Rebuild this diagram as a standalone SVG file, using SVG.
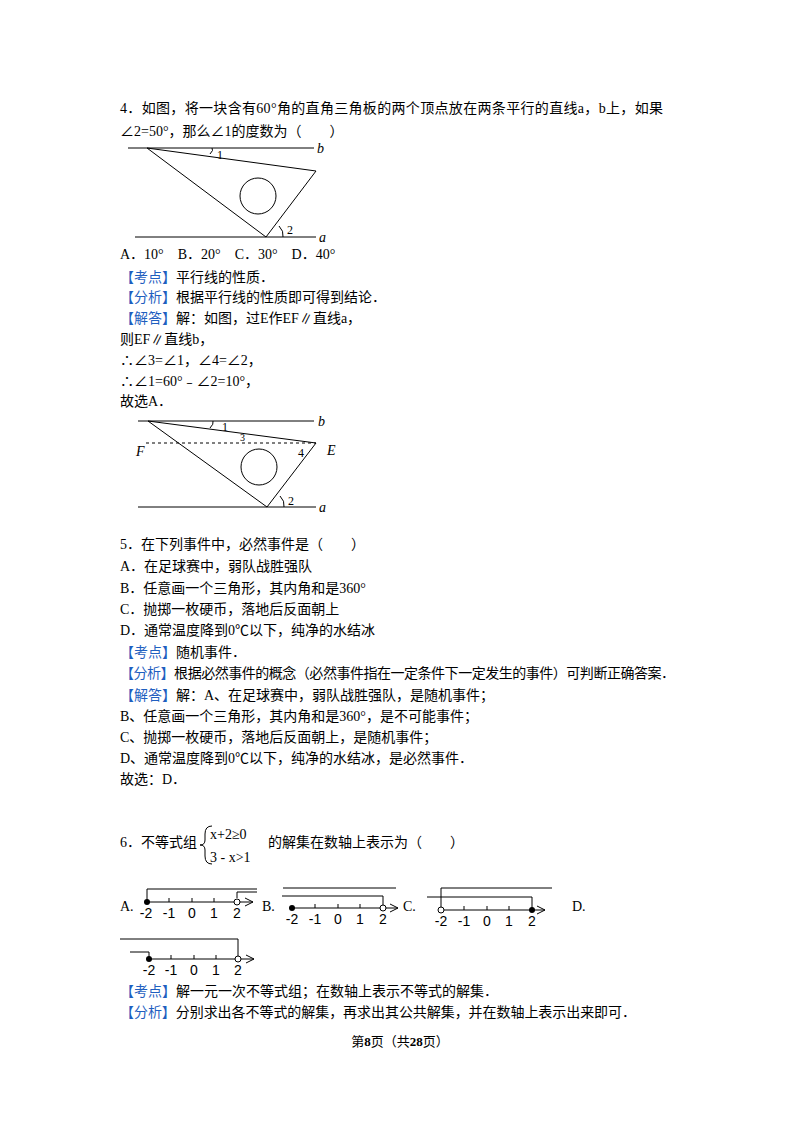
<svg xmlns="http://www.w3.org/2000/svg" width="800" height="1132" viewBox="0 0 800 1132">
<style>
text{font-family:"Liberation Serif","Noto Sans CJK SC",serif;font-size:14px;fill:#000}
.k{fill:#1f5fbf}
.it{font-style:italic}
.sm{font-size:12px}
.xs{font-size:10px}
.ln{stroke:#000;stroke-width:1;fill:none}
.nl{font-family:"Liberation Sans","Noto Sans CJK SC",sans-serif;font-size:14px;text-anchor:middle}
.ft{font-size:13px;text-anchor:middle}
</style>
<defs><marker id="ar" markerWidth="10" markerHeight="10" refX="9" refY="5" orient="auto" markerUnits="userSpaceOnUse"><path d="M1,1 L9,5 L1,9" fill="none" stroke="#000"/></marker></defs>
<rect width="800" height="1132" fill="#fff"/>
<text x="120" y="113" textLength="543">4．如图，将一块含有60°角的直角三角板的两个顶点放在两条平行的直线a，b上，如果</text>
<text x="120" y="136">∠2=50°，那么∠1的度数为（　　）</text>
<g id="fig1">
<line class="ln" x1="128" y1="148" x2="314" y2="148"/>
<line class="ln" x1="135" y1="237" x2="316" y2="237"/>
<path class="ln" d="M147,148 L316,171 L266,237 Z"/>
<circle class="ln" cx="258" cy="196" r="18"/>
<path class="ln" d="M210,154 Q214,150 212,148"/>
<path class="ln" d="M279,226 Q284,231 283,237"/>
<text x="217" y="159" class="sm">1</text><text x="287" y="234" class="sm">2</text>
<text x="317" y="153" class="it">b</text><text x="319" y="242" class="it">a</text>
</g>
<text x="120" y="259">A．10°　B．20°　C．30°　D．40°</text>
<text x="120" y="282"><tspan class="k">【考点】</tspan>平行线的性质．</text>
<text x="120" y="302"><tspan class="k">【分析】</tspan>根据平行线的性质即可得到结论．</text>
<text x="120" y="323"><tspan class="k">【解答】</tspan>解：如图，过E作EF∥直线a，</text>
<text x="120" y="344">则EF∥直线b，</text>
<text x="120" y="365">∴∠3=∠1，∠4=∠2，</text>
<text x="120" y="386">∴∠1=60°﹣∠2=10°，</text>
<text x="120" y="406">故选A．</text>
<g id="fig2">
<line class="ln" x1="138" y1="421" x2="314" y2="421"/>
<line class="ln" x1="138" y1="507" x2="316" y2="507"/>
<line class="ln" x1="146" y1="443" x2="316" y2="443" stroke-dasharray="3,3"/>
<path class="ln" d="M148,421 L316,443 L267,507 Z"/>
<circle class="ln" cx="259" cy="467" r="18"/>
<path class="ln" d="M210,428 Q214,424 213,421"/>
<path class="ln" d="M280,496 Q285,501 284,507"/>
<text x="222" y="431" class="sm">1</text><text x="240" y="441" class="xs">3</text>
<text x="298" y="457" class="sm">4</text><text x="288" y="505" class="sm">2</text>
<text x="318" y="426" class="it">b</text><text x="319" y="512" class="it">a</text>
<text x="136" y="456" class="it">F</text><text x="327" y="455" class="it">E</text>
</g>
<text x="120" y="549">5．在下列事件中，必然事件是（　　）</text>
<text x="120" y="571">A．在足球赛中，弱队战胜强队</text>
<text x="120" y="593">B．任意画一个三角形，其内角和是360°</text>
<text x="120" y="614">C．抛掷一枚硬币，落地后反面朝上</text>
<text x="120" y="635">D．通常温度降到0℃以下，纯净的水结冰</text>
<text x="120" y="657"><tspan class="k">【考点】</tspan>随机事件．</text>
<text x="120" y="678" textLength="555"><tspan class="k">【分析】</tspan>根据必然事件的概念（必然事件指在一定条件下一定发生的事件）可判断正确答案．</text>
<text x="120" y="700"><tspan class="k">【解答】</tspan>解：A、在足球赛中，弱队战胜强队，是随机事件；</text>
<text x="120" y="721">B、任意画一个三角形，其内角和是360°，是不可能事件；</text>
<text x="120" y="742">C、抛掷一枚硬币，落地后反面朝上，是随机事件；</text>
<text x="120" y="763">D、通常温度降到0℃以下，纯净的水结冰，是必然事件．</text>
<text x="120" y="784">故选：D．</text>
<text x="120" y="847">6．不等式组</text>
<path class="ln" d="M212,826 Q205,826 205,834 L205,840 Q205,845 200,845 Q205,845 205,850 L205,856 Q205,864 212,864"/>
<text x="210" y="839">x+2≥0</text>
<text x="210" y="862">3 - x&gt;1</text>
<text x="268" y="847">的解集在数轴上表示为（　　）</text>
<g id="numlines">
<text x="120" y="911">A.</text>
<line class="ln" x1="145" y1="902" x2="253" y2="902" marker-end="url(#ar)"/>
<path class="ln" d="M147,902 V889 H257 M237,898 V892 H257"/>
<path class="ln" d="M169,898 V902 M192,898 V902 M214,898 V902"/>
<circle cx="147" cy="902" r="3"/><circle cx="237" cy="902" r="3" fill="#fff" stroke="#000"/>
<text x="146" y="918" class="nl">-2</text><text x="169" y="918" class="nl">-1</text><text x="192" y="918" class="nl">0</text><text x="214" y="918" class="nl">1</text><text x="237" y="918" class="nl">2</text>
<text x="262" y="911">B.</text>
<line class="ln" x1="292" y1="908" x2="398" y2="908" marker-end="url(#ar)"/>
<path class="ln" d="M283,888 H396 M282,896 H383 V905"/>
<path class="ln" d="M315,904 V908 M338,904 V908 M360,904 V908"/>
<circle cx="292" cy="908" r="3"/><circle cx="383" cy="908" r="3" fill="#fff" stroke="#000"/>
<text x="292" y="924" class="nl">-2</text><text x="315" y="924" class="nl">-1</text><text x="338" y="924" class="nl">0</text><text x="360" y="924" class="nl">1</text><text x="383" y="924" class="nl">2</text>
<text x="403" y="911">C.</text>
<line class="ln" x1="441" y1="910" x2="545" y2="910" marker-end="url(#ar)"/>
<path class="ln" d="M441,888 H552 M441,888 V907 M427,897 H532 V910"/>
<path class="ln" d="M464,906 V910 M487,906 V910 M509,906 V910"/>
<circle cx="441" cy="910" r="3" fill="#fff" stroke="#000"/><circle cx="532" cy="910" r="3"/>
<text x="441" y="926" class="nl">-2</text><text x="464" y="926" class="nl">-1</text><text x="487" y="926" class="nl">0</text><text x="509" y="926" class="nl">1</text><text x="532" y="926" class="nl">2</text>
<text x="572" y="911">D.</text>
<line class="ln" x1="149" y1="959" x2="254" y2="959" marker-end="url(#ar)"/>
<path class="ln" d="M120,939 H238 V956 M130,952 H149 V959"/>
<path class="ln" d="M171,955 V959 M194,955 V959 M216,955 V959"/>
<circle cx="149" cy="959" r="3"/><circle cx="238" cy="959" r="3" fill="#fff" stroke="#000"/>
<text x="149" y="975" class="nl">-2</text><text x="171" y="975" class="nl">-1</text><text x="194" y="975" class="nl">0</text><text x="216" y="975" class="nl">1</text><text x="238" y="975" class="nl">2</text>
</g>
<text x="120" y="996"><tspan class="k">【考点】</tspan>解一元一次不等式组；在数轴上表示不等式的解集．</text>
<text x="120" y="1017" textLength="516"><tspan class="k">【分析】</tspan>分别求出各不等式的解集，再求出其公共解集，并在数轴上表示出来即可．</text>
<text x="400" y="1046" class="ft">第<tspan font-weight="bold">8</tspan>页（共<tspan font-weight="bold">28</tspan>页）</text>
</svg>
